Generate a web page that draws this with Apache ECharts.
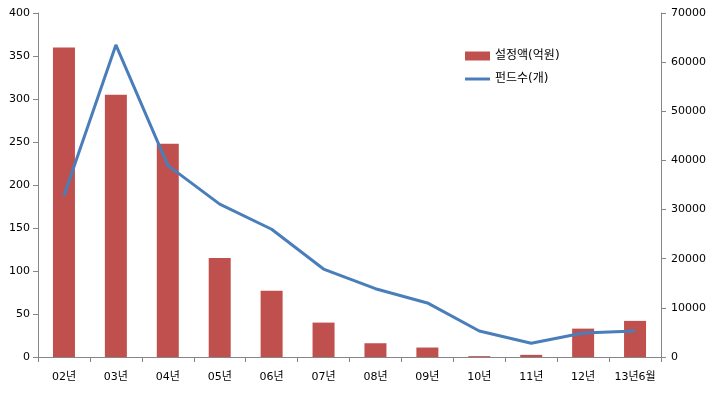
<!DOCTYPE html>
<html><head><meta charset="utf-8">
<script src="https://cdn.jsdelivr.net/npm/echarts@6/dist/echarts.min.js"></script>
<style>html,body{margin:0;padding:0;background:#fff}#c{width:720px;height:393px}</style>
</head><body><div id="c"></div>
<script>
const categories = ['02년','03년','04년','05년','06년','07년','08년','09년','10년','11년','12년','13년6월'];
const amountValues = [360, 305, 248, 115, 77, 40, 16, 11, 1, 2.5, 33, 42];
const fundCounts = [32800, 63500, 39000, 31100, 26000, 17900, 13900, 11000, 5300, 2800, 4900, 5300];
const leftTicks = [0, 400, 50];
const rightTicks = [0, 70000, 10000];
const seriesNames = ['설정액(억원)', '펀드수(개)'];

const font = "'DejaVu Sans', 'Noto Sans CJK KR', sans-serif";
const axisColor = '#868686';
const chart = echarts.init(document.getElementById('c'), null, {renderer: 'canvas'});
chart.setOption({
  animation: false,
  grid: {left: 38, right: 59, top: 13, bottom: 36, containLabel: false},
  legend: [
    {data: [seriesNames[0]], left: 460, top: 45, orient: 'vertical', itemWidth: 25, itemHeight: 9,
     textStyle: {fontFamily: font, fontSize: 12, color: '#000'}, icon: 'rect'},
    {data: [seriesNames[1]], left: 460, top: 68, orient: 'vertical', itemWidth: 25, itemHeight: 3,
     textStyle: {fontFamily: font, fontSize: 12, color: '#000'}, icon: 'rect'}
  ],
  xAxis: {
    type: 'category', data: categories, boundaryGap: true,
    axisLine: {lineStyle: {color: axisColor}},
    axisTick: {show: true, alignWithLabel: false, length: 5, lineStyle: {color: axisColor}},
    axisLabel: {fontFamily: font, fontSize: 11, color: '#000', margin: 15, interval: 0}
  },
  yAxis: [
    {type: 'value', min: leftTicks[0], max: leftTicks[1], interval: leftTicks[2], position: 'left',
     axisLine: {show: true, lineStyle: {color: axisColor}},
     axisTick: {show: true, length: 5, lineStyle: {color: axisColor}},
     splitLine: {show: false},
     axisLabel: {fontFamily: font, fontSize: 11, color: '#000', margin: 8}},
    {type: 'value', min: rightTicks[0], max: rightTicks[1], interval: rightTicks[2], position: 'right',
     axisLine: {show: true, lineStyle: {color: axisColor}},
     axisTick: {show: true, length: 5, lineStyle: {color: axisColor}},
     splitLine: {show: false},
     axisLabel: {fontFamily: font, fontSize: 11, color: '#000', margin: 10, formatter: v => String(v)}}
  ],
  series: [
    {name: seriesNames[0], type: 'bar', data: amountValues, yAxisIndex: 0, barWidth: 22,
     itemStyle: {color: '#c0504d'}},
    {name: seriesNames[1], type: 'line', data: fundCounts, yAxisIndex: 1, symbol: 'none', smooth: false,
     lineStyle: {color: '#4a7ebb', width: 3}, itemStyle: {color: '#4a7ebb'}}
  ]
});
</script></body></html>
